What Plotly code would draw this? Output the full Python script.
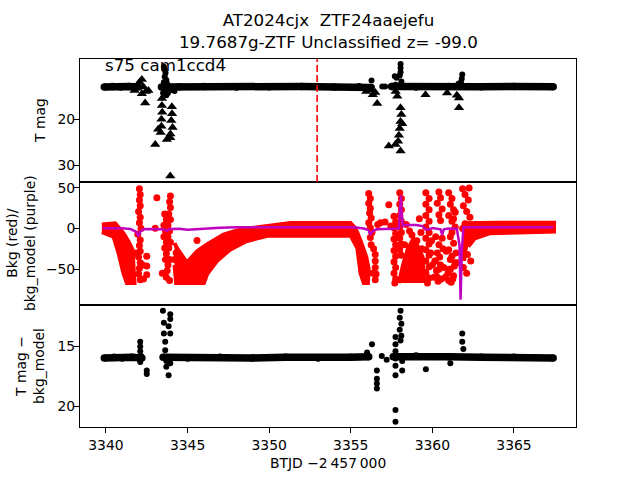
import plotly.graph_objects as go

# ---------------- data ----------------
# Panel 1: T mag (black circles baseline + outliers, black triangles = upper limits)
p1_base_x = [3339.9, 3340.4, 3340.9, 3341.4, 3342.0, None, 3343.4, 3344.5, 3346.0, 3348.0, 3350.0,
             3352.0, 3354.0, 3355.5, 3356.25, None, 3357.5, 3359.0, 3361.0, 3363.0, 3365.0, 3367.4]
p1_base_y = [13.0, 12.9, 13.0, 12.9, 13.0, None, 13.0, 12.95, 12.9, 13.0, 12.95,
             12.9, 13.0, 12.95, 13.1, None, 12.9, 13.0, 12.9, 12.95, 12.9, 12.95]
p1_dot_x = [3343.55, 3343.6, 3343.65, 3343.6, 3343.7, 3343.55, 3343.75, 3343.6, 3343.8, 3343.7,
            3343.9, 3344.0, 3344.2, 3343.5, 3356.27, 3356.93, 3357.1, 3358.05, 3358.05, 3358.05,
            3357.7, 3357.8, 3358.0, 3358.1, 3357.75, 3361.83, 3361.8, 3361.75, 3361.6]
p1_dot_y = [8.6, 9.3, 10.0, 10.8, 11.5, 12.0, 12.3, 13.8, 14.3, 14.8,
            13.8, 13.6, 13.9, 14.3, 11.6, 12.9, 12.9, 8.0, 8.9, 9.8,
            10.7, 11.0, 10.5, 11.8, 12.5, 10.3, 11.2, 12.0, 12.3]
p1_tri_x = [3341.75, 3341.9, 3342.05, 3342.2, 3342.3, 3342.45, 3342.6, 3342.2, 3342.4,
            3343.43, 3343.43, 3343.45, 3343.4, 3343.4, 3343.35, 3343.02, 3343.2, 3343.73,
            3344.04, 3344.05, 3344.0, 3344.08, 3343.95, 3343.94, 3343.94,
            3355.95, 3356.2, 3356.35, 3356.62, 3356.5,
            3357.85, 3357.75, 3358.05, 3358.1, 3358.05, 3358.0, 3357.95, 3358.15, 3357.9,
            3357.33, 3357.74, 3358.05,
            3359.58, 3360.9, 3361.5, 3361.63, 3361.63]
p1_tri_y = [13.8, 13.0, 12.0, 11.4, 13.0, 14.0, 13.8, 14.5, 16.5,
            15.5, 17.0, 18.5, 20.0, 21.5, 22.9, 25.5, 22.2, 24.4,
            17.3, 18.8, 20.3, 21.8, 23.2, 24.0, 32.3,
            14.0, 13.6, 14.7, 16.6, 14.2,
            15.0, 14.0, 17.5, 19.0, 20.5, 22.0, 23.5, 21.0, 24.8,
            25.8, 25.5, 26.9,
            14.7, 14.3, 14.8, 15.4, 17.5]
marker_time = [3352.94]

# Panel 2: background (red) and background model (purple)
red_poly_x = [3339.75, 3340.56, 3340.77, 3341.07, 3341.38, 3341.63, 3341.75, 3341.28, 3341.07, 3340.77, 3340.46, 3339.75, None,
              3344.2, 3344.35, 3344.96, 3345.58, 3346.19, 3347.2, 3348.23, 3349.87, 3351.3, 3354.98, 3355.3, 3355.6,
              3355.95, 3356.1, 3356.05, 3355.8, 3355.6, 3355.4, 3355.0, 3352.5, 3349.9, 3348.6, 3347.6, 3346.8,
              3346.2, 3346.0, 3344.3, 3344.2, None,
              3357.95, 3358.2, 3358.5, 3358.85, 3359.1, 3359.4, 3359.5, None,
              3361.95, 3362.0, 3364.0, 3367.45, 3367.45, 3365.0, 3363.5, 3362.6, 3362.2]
red_poly_y = [5, 6.5, 1.5, -5.8, -16, -26, -67, -67, -55, -30, -9.8, -4.5, None,
              -18, -24, -42, -28, -19.6, -7.4, -1.2, 3.7, 6.9, 6.9, 0, -15,
              -35, -50, -67, -67, -55, -24, -9, -9, -9, -15.6, -26, -40,
              -56, -67, -67, -45, None,
              -67, -45, -25, -12, -22, -35, -67, None,
              -40, 6.5, 7, 7, -3.7, -4.5, -5.8, -12, -22]
red_dot_x = [3342.05, 3342.1, 3342.05, 3342.1, 3342.0, 3342.1, 3342.05, 3342.15, 3341.95, 3342.1,
             3342.05, 3342.1, 3342.0, 3342.1, 3342.05, 3342.0, 3342.1,
             3342.5, 3342.5, 3342.5, 3343.12, 3343.02, 3345.58,
             3343.95, 3343.9, 3343.95, 3343.6, 3343.85, 3343.7, 3343.95, 3343.55, 3343.8, 3343.65,
             3343.9, 3343.55, 3343.8, 3343.7, 3343.95, 3343.6, 3343.85, 3343.7, 3343.9, 3343.65,
             3343.8, 3343.75, 3343.45, 3343.7, 3343.9,
             3356.1, 3356.2, 3356.1, 3356.2, 3356.15, 3356.25, 3356.1, 3356.2, 3356.3, 3356.2, 3356.25,
             3356.5, 3356.5, 3356.5, 3356.55, 3356.5, 3357.33, 3356.82, 3356.65, 3357.1,
             3357.65, 3357.75, 3357.65, 3357.75, 3357.65, 3357.75, 3357.65, 3357.75, 3357.65, 3357.75,
             3357.65, 3357.75, 3357.7,
             3358.0, 3358.1, 3358.0, 3358.1, 3358.0, 3358.1, 3358.0, 3358.1, 3358.0, 3358.1, 3358.0, 3358.1,
             3359.6, 3359.8, 3359.6, 3359.8, 3359.6, 3359.8, 3359.6, 3359.8, 3359.6, 3359.8, 3359.6,
             3359.8, 3359.6, 3359.8, 3359.6, 3359.8, 3359.7,
             3360.4, 3360.5, 3360.3, 3360.6, 3360.4, 3360.5, 3360.2, 3360.4, 3360.3, 3360.2, 3360.4, 3360.3,
             3360.65, 3360.5,
             3361.0, 3361.2, 3361.1, 3361.3, 3361.0, 3361.2, 3361.4, 3361.1, 3361.3, 3361.0, 3361.2, 3361.4,
             3361.1, 3361.3, 3361.0, 3361.2, 3361.4, 3361.1, 3361.3,
             3361.85, 3362.0, 3362.2, 3361.9, 3362.1, 3362.3, 3361.85, 3362.05, 3362.25, 3361.95, 3362.15,
             3362.35, 3361.9, 3362.1, 3362.25, 3362.0,
             3359.9, 3360.0, 3360.1, 3360.25, 3360.45, 3360.55, 3360.7, 3360.85, 3360.95, 3361.15,
             3361.35, 3361.45, 3359.95, 3360.15, 3360.35, 3360.6, 3360.8, 3361.05, 3361.25, 3361.5,
             3358.4, 3358.6, 3359.2, 3359.3, 3358.3, 3358.75, 3359.05, 3359.35,
             3341.85, 3342.25, 3342.3, 3344.3, 3344.2, 3356.4, 3356.35, 3357.45]
red_dot_y = [49, 42, 35, 28, 21, 14, 7, 0, -7, -14,
             -21, -28, -35, -42, -49, -56, -63,
             -34, -46, -57, 38, 0.4, -14.7,
             40, 33, 26, 18, 18, 11, 11, 4, 4, -3,
             -3, -10, -10, -17, -17, -24, -24, -31, -38, -38,
             -45, -52, -55, -60, -64,
             43, 37, 31, 25, 19, 13, 7, 1, -5, -11, -20,
             -32, -40, -48, -56, -63, 29.4, 7, 5, 8,
             15, 8, 1, -6, -13, -20, -27, -34, -41, -48,
             -55, -62, -67,
             44, 37, 30, 23, 16, 9, 2, -5, -12, -19, -26, -33,
             44, 37, 30, 23, 16, 9, 2, -5, -12, -19, -26,
             -33, -40, -47, -54, -61, -67,
             45, 38, 31, 24, 17, 10, -10, -20, -30, -40, -50, -60,
             -25, -45,
             44, 37, 30, 23, 16, 9, 2, -10, -18, -26, -34, -42,
             -50, -58, -64, -5, 20, -38, 12,
             49, 42, 35, 28, 21, 14, 0, -8, -16, -24, -32,
             -40, -48, -55, 50, 6,
             -30, -45, -60, -52, -35, -62, -48, -28, -55, -66,
             -46, -30, -15, -40, -65, -12, -60, -50, -62, -42,
             5, -3, 12, -5, -20, -8, -15, -25,
             -30, -45, -62, -30, -38, -25, -55, 3]
mdl_x = [3339.8, 3340.5, 3341.0, 3341.5, 3341.85, 3341.99, 3342.1, 3342.3, 3342.8, 3343.5, 3343.73, 3343.9,
         3344.5, 3345.0, 3346.0, 3347.0, 3348.0, 3350.0, 3352.0, 3354.0, 3355.2, 3355.8, 3356.1, 3356.2,
         3356.35, 3356.6, 3357.5, 3357.95, 3358.02, 3358.07, 3358.12, 3358.2, 3358.3, 3359.0, 3359.4,
         3359.6, 3359.8, 3360.0, 3360.5, 3360.6, 3360.7, 3361.0, 3361.5, 3361.66, 3361.73, 3361.8,
         3361.9, 3362.5, 3365.0, 3367.4]
mdl_y = [0.5, 0.8, 0.3, -0.5, -4, -9.4, -4, -1, -0.5, -0.8, -2.8, -0.5,
         -0.3, -1.5, 0, 1, 1.5, 1.5, 2.0, 2.0, 1.5, 0, -2, -8,
         -3, -1, 0, 0, 25, 41, 20, 3, 4.4, 4.4, 3,
         -1.5, -1, 0.5, -1, -7.8, -1, 0, -0.5, -20, -87.5, -30,
         1.5, 1.5, 1.5, 1.5]

# Panel 3: T mag - bkg_model
p3_base_x = [3339.9, 3340.5, 3341.0, 3341.6, 3342.2, None, 3343.5, 3345.0, 3347.0, 3349.0, 3351.0,
             3353.0, 3355.0, 3356.1, None, 3357.6, 3359.0, 3361.0, 3363.0, 3365.0, 3367.4]
p3_base_y = [15.95, 15.9, 15.95, 15.9, 15.95, None, 15.9, 15.95, 15.9, 15.95, 15.9,
             15.95, 15.9, 15.85, None, 15.85, 15.8, 15.85, 15.9, 15.9, 15.95]
p3_dot_x = [3342.1, 3342.1, 3342.1, 3342.15, 3342.1, 3342.5, 3342.5,
            3343.49, 3343.94, 3343.94, 3343.55, 3343.84, 3343.94, 3343.55, 3343.63, 3343.63, 3343.7,
            3343.94, 3343.7, 3343.84,
            3356.3, 3356.0, 3356.6, 3356.6, 3356.6, 3356.6, 3356.9, 3357.2,
            3358.05, 3358.0, 3358.1, 3358.0, 3358.1, 3358.05, 3357.74, 3357.74, 3357.74, 3357.74, 3357.74,
            3358.15, 3358.15, 3357.74, 3357.74, 3357.74,
            3359.6, 3361.1, 3361.83, 3361.83, 3361.9]
p3_dot_y = [14.6, 15.0, 15.4, 15.8, 16.3, 17.0, 17.3,
            12.0, 12.3, 12.7, 13.0, 13.3, 13.9, 13.9, 14.6, 15.3, 16.2,
            16.4, 16.7, 17.4,
            14.8, 15.5, 17.0, 17.7, 18.1, 18.5, 15.8, 16.1,
            12.0, 12.6, 13.1, 13.6, 14.1, 14.5, 14.2, 14.8, 15.4, 16.0, 16.6,
            16.2, 17.0, 17.4, 20.3, 21.3,
            16.9, 16.4, 13.9, 14.6, 15.2]

x_ticks = [3340, 3345, 3350, 3355, 3360, 3365]
y1_ticks = [20, 30]
y2_ticks = [-50, 0, 50]
y3_ticks = [15, 20]

title_text = "AT2024cjx\u00a0 ZTF24aaejefu<br>19.7687g-ZTF Unclassified z= -99.0"
corner_text = "s75 cam1ccd4"

# ---------------- figure ----------------
FONT = "DejaVu Sans"
BLACK = "#000000"
RED = "#ff0000"
PURPLE = "#bf00bf"

fig = go.Figure()

# panel 1
fig.add_trace(go.Scatter(x=p1_base_x, y=p1_base_y, mode="lines+markers", xaxis="x", yaxis="y",
                         line=dict(color=BLACK, width=7.5), marker=dict(color=BLACK, size=7.5),
                         connectgaps=False, showlegend=False, hoverinfo="skip"))
fig.add_trace(go.Scatter(x=p1_dot_x, y=p1_dot_y, mode="markers", xaxis="x", yaxis="y",
                         marker=dict(color=BLACK, size=6), showlegend=False))
fig.add_trace(go.Scatter(x=p1_tri_x, y=p1_tri_y, mode="markers", xaxis="x", yaxis="y",
                         marker=dict(color=BLACK, size=9, symbol="triangle-up"), showlegend=False))

# panel 2
fig.add_trace(go.Scatter(x=red_poly_x, y=red_poly_y, mode="lines", fill="toself", fillcolor=RED,
                         xaxis="x2", yaxis="y2", line=dict(color=RED, width=4),
                         showlegend=False, hoverinfo="skip"))
fig.add_trace(go.Scatter(x=red_dot_x, y=red_dot_y, mode="markers", xaxis="x2", yaxis="y2",
                         marker=dict(color=RED, size=7), showlegend=False))
fig.add_trace(go.Scatter(x=mdl_x, y=mdl_y, mode="lines", xaxis="x2", yaxis="y2",
                         line=dict(color=PURPLE, width=2.5), showlegend=False))

# panel 3
fig.add_trace(go.Scatter(x=p3_base_x, y=p3_base_y, mode="lines+markers", xaxis="x3", yaxis="y3",
                         line=dict(color=BLACK, width=7.5), marker=dict(color=BLACK, size=7.5),
                         connectgaps=False, showlegend=False, hoverinfo="skip"))
fig.add_trace(go.Scatter(x=p3_dot_x, y=p3_dot_y, mode="markers", xaxis="x3", yaxis="y3",
                         marker=dict(color=BLACK, size=6), showlegend=False))

XR = [3338.41, 3368.8]
XD = [0.125, 0.9]
common_ax = dict(showline=True, mirror=True, linecolor=BLACK, linewidth=1, showgrid=False,
                 zeroline=False, tickfont=dict(family=FONT, size=13.9, color=BLACK),
                 ticks="outside", ticklen=5, tickwidth=1, tickcolor=BLACK)
y_ax = dict(common_ax, ticklabelstandoff=-4)

fig.update_layout(
    width=640, height=480, margin=dict(l=0, r=0, t=0, b=0),
    paper_bgcolor="white", plot_bgcolor="white", showlegend=False,
    font=dict(family=FONT, color=BLACK),
    xaxis=dict(common_ax, domain=XD, range=XR, anchor="y", showticklabels=False, ticks=""),
    xaxis2=dict(common_ax, domain=XD, range=XR, anchor="y2", showticklabels=False, ticks="", matches="x"),
    xaxis3=dict(common_ax, domain=XD, range=XR, anchor="y3", tickvals=x_ticks, matches="x"),
    yaxis=dict(y_ax, domain=[0.6233, 0.88], range=[33.63, 7.02], anchor="x", tickvals=y1_ticks),
    yaxis2=dict(y_ax, domain=[0.3667, 0.6233], range=[-93.75, 57.2], anchor="x2", tickvals=y2_ticks),
    yaxis3=dict(y_ax, domain=[0.1104, 0.3667], range=[21.75, 11.5], anchor="x3", tickvals=y3_ticks),
)

# red dashed vertical line in top panel
for t in marker_time:
    fig.add_shape(type="line", xref="x", yref="y domain", x0=t, x1=t, y0=0, y1=1,
                  line=dict(color=RED, width=1.6, dash="7px,3px"))

ann_font = dict(family=FONT, size=13.9, color=BLACK)
fig.add_annotation(text=title_text, xref="paper", yref="paper", x=328 / 640, y=1 - 52 / 480,
                   xanchor="center", yanchor="bottom", showarrow=False,
                   font=dict(family=FONT, size=16.7, color=BLACK))
fig.add_annotation(text=corner_text, xref="paper", yref="paper", x=103 / 640, y=1 - 63 / 480,
                   xanchor="left", yanchor="middle", showarrow=False,
                   font=dict(family=FONT, size=16.7, color=BLACK))
fig.add_annotation(text="T mag", xref="paper", yref="paper", x=40 / 640, y=1 - 119.5 / 480,
                   xanchor="center", yanchor="middle", textangle=-90, showarrow=False, font=ann_font)
fig.add_annotation(text="Bkg (red)/<br>bkg_model (purple)", xref="paper", yref="paper",
                   x=21.5 / 640, y=1 - 242.5 / 480, xanchor="center", yanchor="middle",
                   textangle=-90, showarrow=False, font=ann_font)
fig.add_annotation(text="T mag \u2212<br>bkg_model", xref="paper", yref="paper",
                   x=30 / 640, y=1 - 365.5 / 480, xanchor="center", yanchor="middle",
                   textangle=-90, showarrow=False, font=ann_font)
fig.add_annotation(text="BTJD \u22122\u2009457\u2009000", xref="paper", yref="paper",
                   x=328 / 640, y=1 - 463 / 480, xanchor="center", yanchor="middle",
                   showarrow=False, font=ann_font)

fig.write_html("out.html")
